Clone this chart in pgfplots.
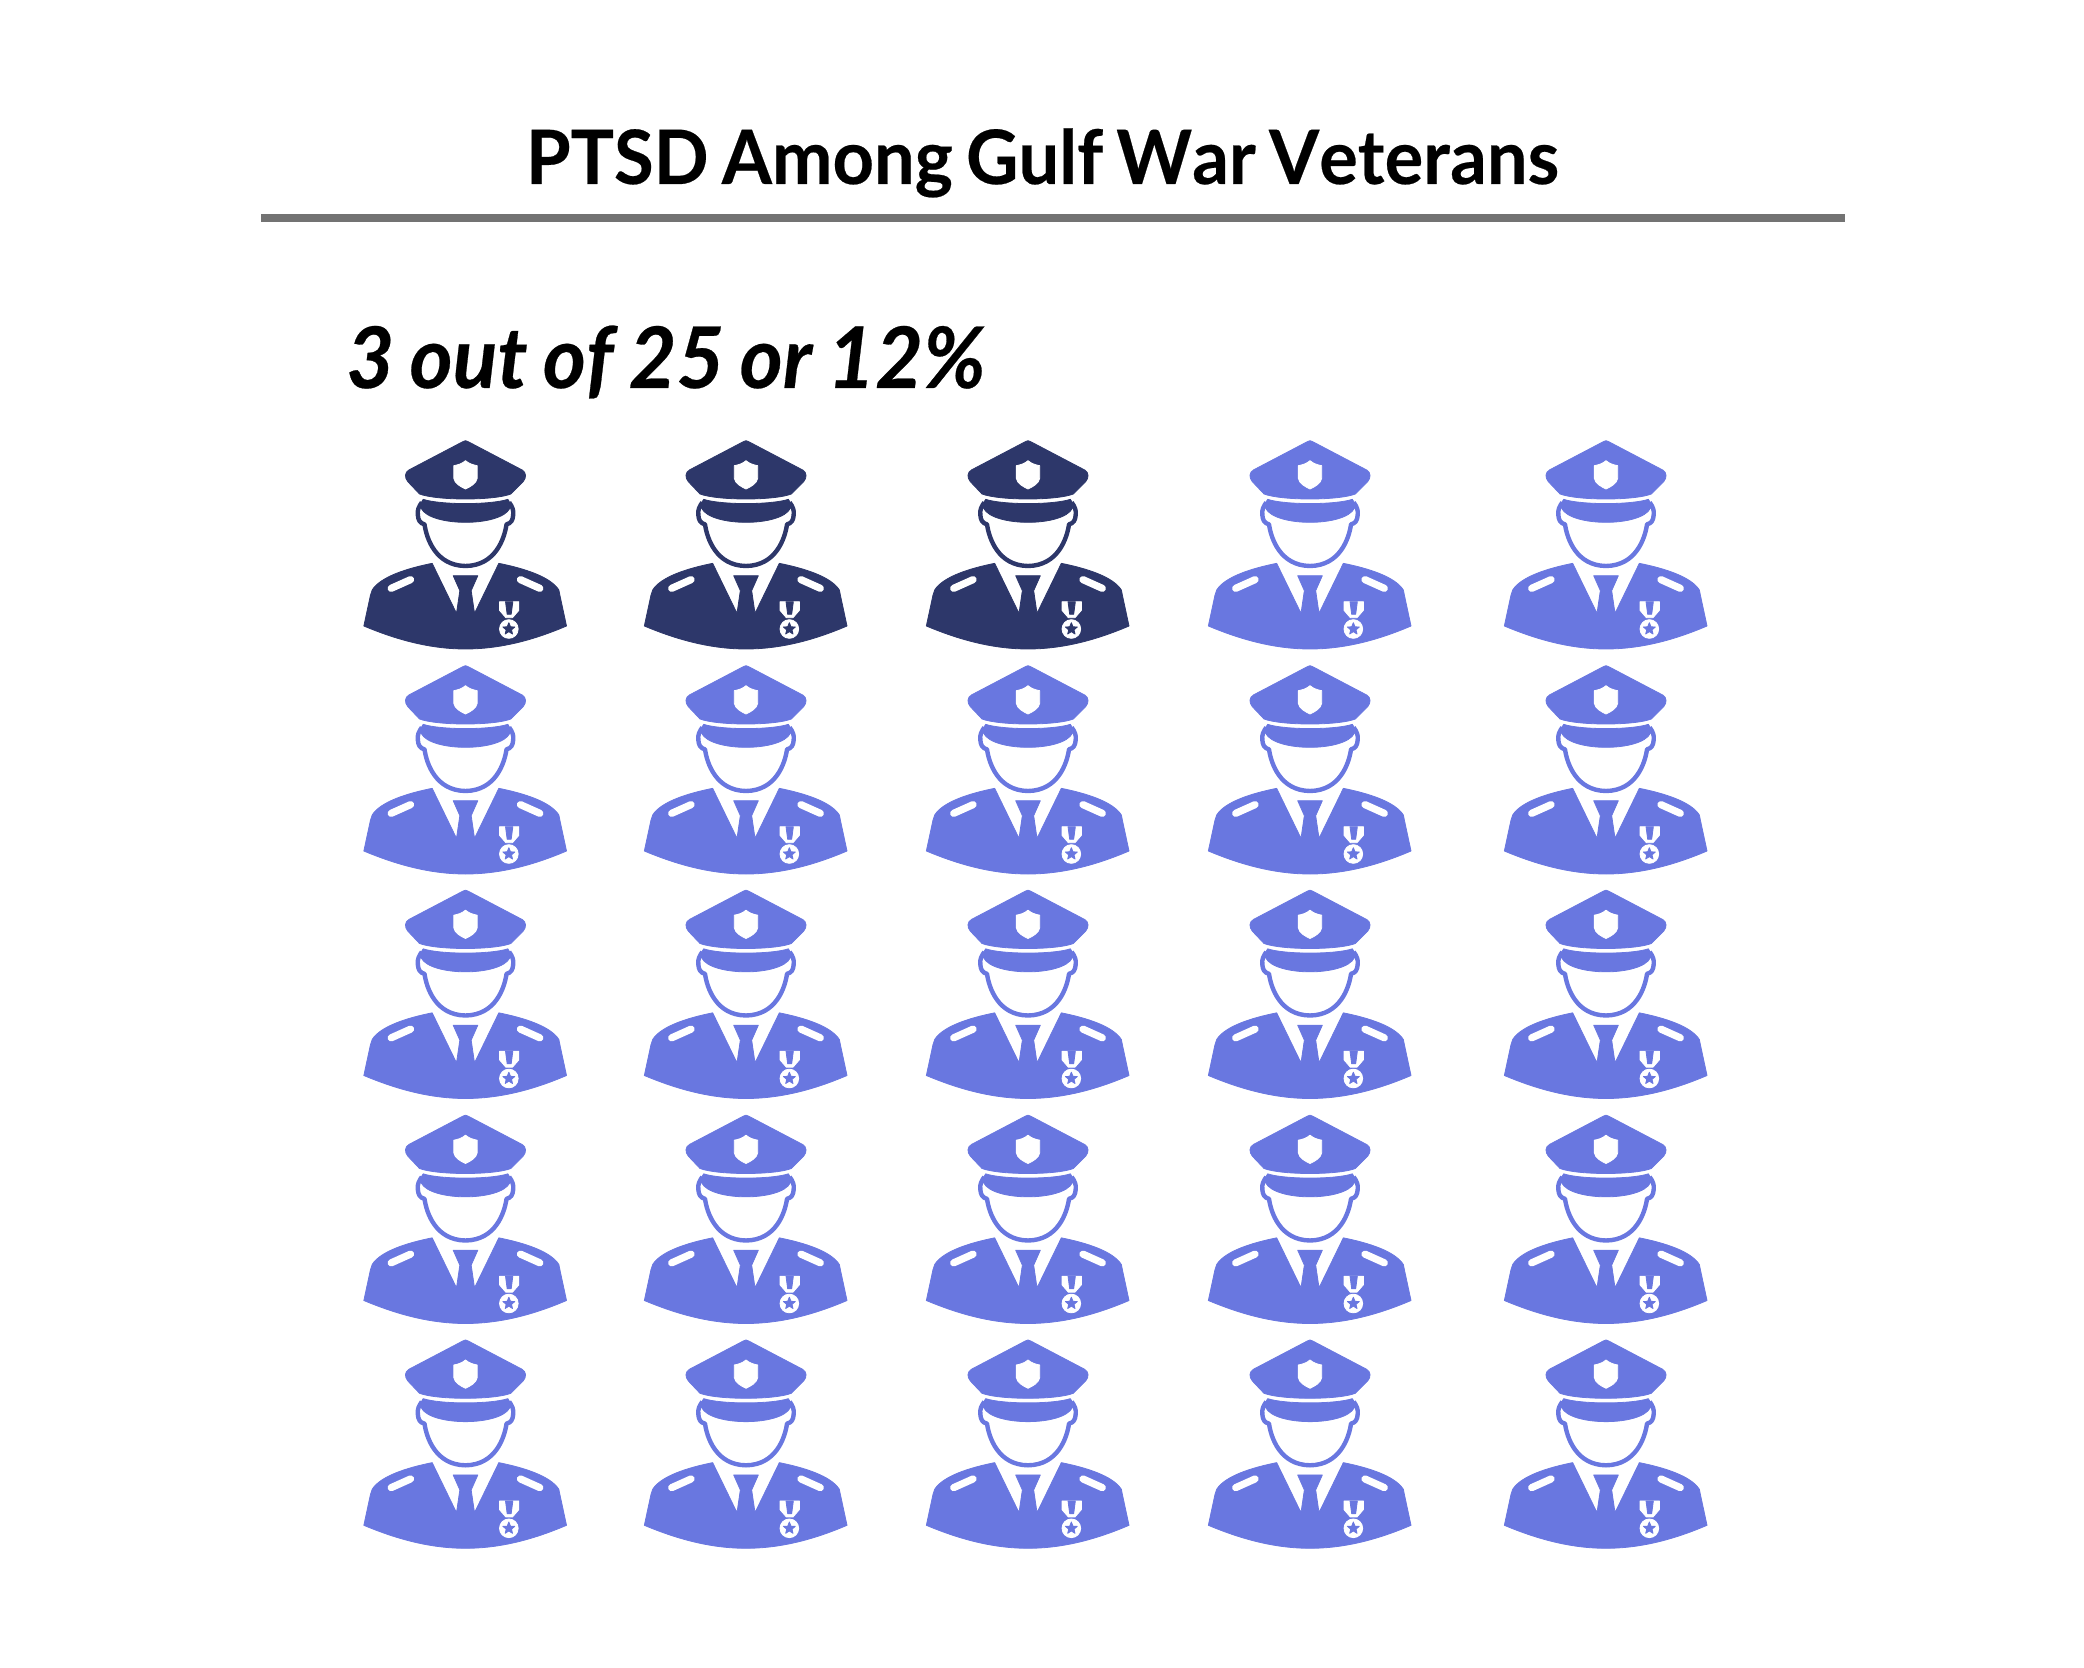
\documentclass[border=0pt]{standalone}
\usepackage{pgfplots}
\pgfplotsset{compat=1.18}
\usepackage{fontspec}
\setmainfont{Lato}
\newfontface\titlefont[FakeStretch=0.963,FakeBold=0.3,Kerning=Off,WordSpace=0.75]{Lato Bold}
\newfontface\subfont[FakeStretch=0.97,FakeBold=0.3,Kerning=Off,WordSpace=0.85]{Lato Bold Italic}
\definecolor{dark}{RGB}{45,55,106}
\definecolor{light}{RGB}{105,119,224}
\newcommand{\soldier}[1]{%
\pgftransformshift{\pgfqpoint{-57.5pt}{60pt}}%
\begin{scope}[x=0.166667pt,y=-0.166667pt,line cap=butt,line join=round]
% hat
\fill[#1] (337,50) -- (175,135) .. controls (162,143) and (162,158) .. (172,170) -- (207,207) .. controls (260,227) and (430,227) .. (481,207) -- (518,170) .. controls (528,158) and (528,143) .. (515,135) -- (353,50) .. controls (348,46) and (342,46) .. (337,50) -- cycle;
\fill[white] (345,107) .. controls (335,116) and (322,120) .. (310,122) -- (310,160) .. controls (312,175) and (330,185) .. (345,192) .. controls (360,185) and (378,175) .. (380,160) -- (380,122) .. controls (368,120) and (355,116) .. (345,107) -- cycle;
% head outline
\draw[#1,line width=2.2pt] (214,232) .. controls (205,245) and (200,255) .. (202,270) .. controls (203,285) and (208,295) .. (222,298) .. controls (228,340) and (255,422) .. (345,423) .. controls (435,422) and (462,340) .. (468,298) .. controls (482,295) and (487,285) .. (488,270) .. controls (490,255) and (485,245) .. (476,232);
% visor
\fill[#1] (218,223) .. controls (270,240) and (420,240) .. (472,223) -- (482,240) -- (478,250) .. controls (450,306) and (240,306) .. (212,250) -- (208,240) -- cycle;
% body
\fill[#1] (245,415) -- (318,565) -- (328,497) -- (308,452) -- (382,452) -- (362,497) -- (372,565) -- (445,415) .. controls (520,430) and (600,455) .. (625,495) -- (628,510) -- (648,603) .. controls (550,645) and (450,672) .. (345,672) .. controls (240,672) and (140,645) .. (40,603) -- (60,510) -- (65,495) .. controls (90,455) and (170,430) .. (245,415) -- cycle;
% epaulettes
\draw[white,line width=3.6pt,line cap=round] (122,490) -- (180,464);
\draw[white,line width=3.6pt,line cap=round] (510,464) -- (568,490);
% medal
\fill[white] (447,530) -- (505,530) -- (505,556) -- (486,578) -- (466,578) -- (447,556) -- cycle;
\fill[#1] (465,530) -- (487,530) -- (482,568) -- (470,568) -- cycle;
\fill[white] (475,612) circle[radius=28];
\fill[#1] (475,593) -- (480,605.5) -- (493,606) -- (483,614.5) -- (486,627) -- (475,620) -- (464,627) -- (467,614.5) -- (457,606) -- (470,605.5) -- cycle;
\end{scope}}
\pgfdeclareplotmark{soldierdark}{\soldier{dark}}
\pgfdeclareplotmark{soldierlight}{\soldier{light}}
\begin{document}
\begin{tikzpicture}
\useasboundingbox (0,0) rectangle (1042pt,833.5pt);
\begin{axis}[at={(0,0)},anchor=south west,scale only axis,width=1042pt,height=833.5pt,
  xmin=0,xmax=2084,ymin=0,ymax=1667,hide axis,clip=false]
\addplot[only marks,mark=soldierdark] coordinates {
 (465.5,1122) (746,1122) (1028,1122)};
\addplot[only marks,mark=soldierlight] coordinates {
 (1310,1122) (1606,1122)
 (465.5,897) (746,897) (1028,897) (1310,897) (1606,897)
 (465.5,672.5) (746,672.5) (1028,672.5) (1310,672.5) (1606,672.5)
 (465.5,447.5) (746,447.5) (1028,447.5) (1310,447.5) (1606,447.5)
 (465.5,222.7) (746,222.7) (1028,222.7) (1310,222.7) (1606,222.7)};
\addplot[color=black!55,line width=4pt,line cap=butt] coordinates {(261,1449) (1845,1449)};
\node[anchor=base,inner sep=0pt,font=\titlefont\fontsize{37.5pt}{40pt}\selectfont] at (axis cs:1042.5,1483) {PTSD Among Gulf War Veterans};
\node[anchor=base west,inner sep=0pt,font=\subfont\fontsize{42.5pt}{46pt}\selectfont] at (axis cs:346,1279) {3 out of 25 or 12\%};
\end{axis}
\end{tikzpicture}
\end{document}
